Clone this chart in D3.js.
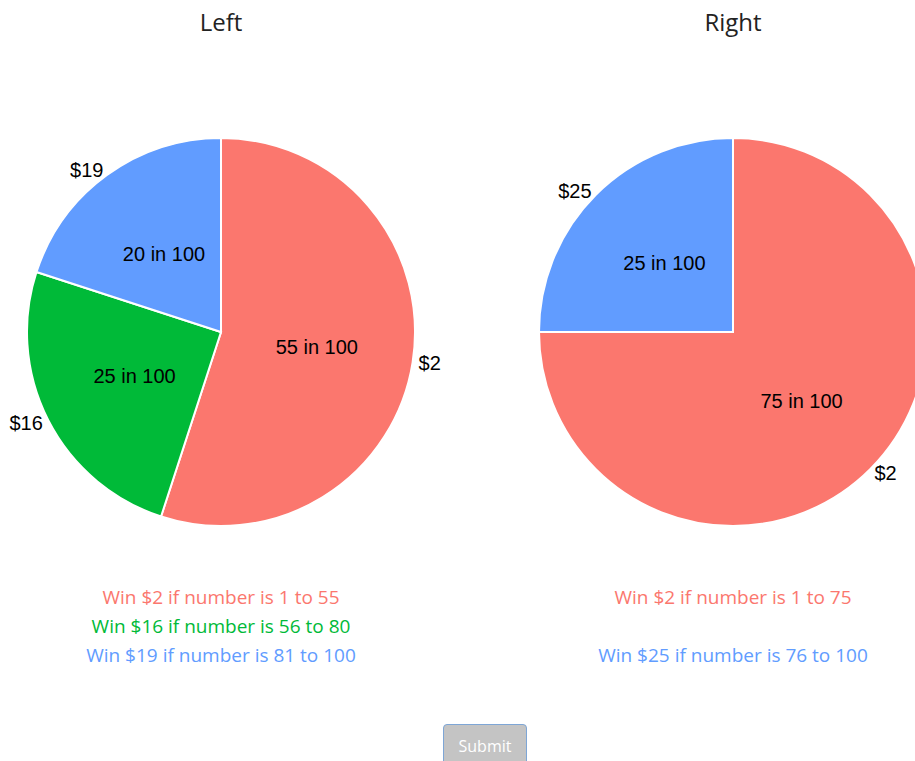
<!DOCTYPE html>
<meta charset="utf-8">
<script src="https://d3js.org/d3.v7.min.js"></script>
<style>
  body { margin: 0; background: #fff; }
  .btn {
    position: absolute; left: 443px; top: 724px; width: 84px; height: 44px;
    box-sizing: border-box; background: #c4c4c4; border: 1px solid #7ea6d6;
    border-radius: 4px; color: #fff; font-family: "Open Sans", sans-serif;
    font-size: 16px; text-align: center; line-height: 42px;
  }
</style>
<div id="my_dataviz"></div>
<div class="btn">Submit</div>
<script>
  // pie data
  var leftTitle = "Left", rightTitle = "Right";
  var leftPrizes = ["$2", "$16", "$19"];
  var leftChances = [55, 25, 20];
  var leftColors = ["#fb776e", "#00ba38", "#619cff"];
  var leftText = ["Win $2 if number is 1 to 55", "Win $16 if number is 56 to 80", "Win $19 if number is 81 to 100"];

  var rightPrizes = ["$2", "$25"];
  var rightChances = [75, 25];
  var rightColors = ["#fb776e", "#619cff"];
  var rightText = ["Win $2 if number is 1 to 75", "", "Win $25 if number is 76 to 100"];
  var rightTextColors = ["#fb776e", "#00ba38", "#619cff"];

  var width = 915, height = 761, radius = 194;

  var svg = d3.select("#my_dataviz")
    .append("svg")
      .attr("width", width)
      .attr("height", height);

  function drawPie(cx, title, prizes, chances, colors, lines, lineColors) {
    var g = svg.append("g").attr("transform", "translate(" + cx + ",332)");

    svg.append("text")
      .attr("x", cx).attr("y", 31)
      .attr("text-anchor", "middle")
      .style("font-family", "'Open Sans', sans-serif")
      .style("font-size", "24px")
      .style("fill", "#222")
      .text(title);

    var data = chances.map(function(c, i) { return {prize: prizes[i], chance: c, color: colors[i]}; });
    var pie = d3.pie().value(d => d.chance).sort(null);
    var arc = d3.arc().innerRadius(0).outerRadius(radius);
    var inner = d3.arc().innerRadius(radius * 0.5).outerRadius(radius * 0.5);
    var outer = d3.arc().innerRadius(radius + 6).outerRadius(radius + 6);
    var arcs = pie(data);
    var midAngle = d => (d.startAngle + d.endAngle) / 2;

    g.selectAll("path")
      .data(arcs)
      .enter()
      .append("path")
        .attr("d", arc)
        .style("fill", d => d.data.color)
        .style("stroke", "#fff")
        .style("stroke-width", 2);

    g.selectAll(".inlab")
      .data(arcs)
      .enter()
      .append("text")
        .attr("transform", d => "translate(" + inner.centroid(d) + ")")
        .attr("text-anchor", "middle")
        .attr("dy", "0.35em")
        .style("font-family", "'Liberation Sans', Arial, sans-serif")
        .style("font-size", "20px")
        .text(d => d.data.chance + " in 100");

    // outside labels, anchored away from the pie
    g.selectAll(".outlab")
      .data(arcs)
      .enter()
      .append("text")
        .attr("transform", d => "translate(" + outer.centroid(d) + ")")
        .attr("text-anchor", d => midAngle(d) < Math.PI ? "start" : "end")
        .attr("dy", "0.35em")
        .style("font-family", "'Liberation Sans', Arial, sans-serif")
        .style("font-size", "20px")
        .text(d => d.data.prize);

    svg.selectAll(null)
      .data(lines)
      .enter()
      .append("text")
        .attr("x", cx)
        .attr("y", (d, i) => 604 + i * 29)
        .attr("text-anchor", "middle")
        .style("font-family", "'Open Sans', sans-serif")
        .style("font-size", "19px")
        .style("fill", (d, i) => lineColors[i])
        .text(d => d);
  }

  drawPie(221, leftTitle, leftPrizes, leftChances, leftColors, leftText, leftColors);
  drawPie(733, rightTitle, rightPrizes, rightChances, rightColors, rightText, rightTextColors);
</script>
